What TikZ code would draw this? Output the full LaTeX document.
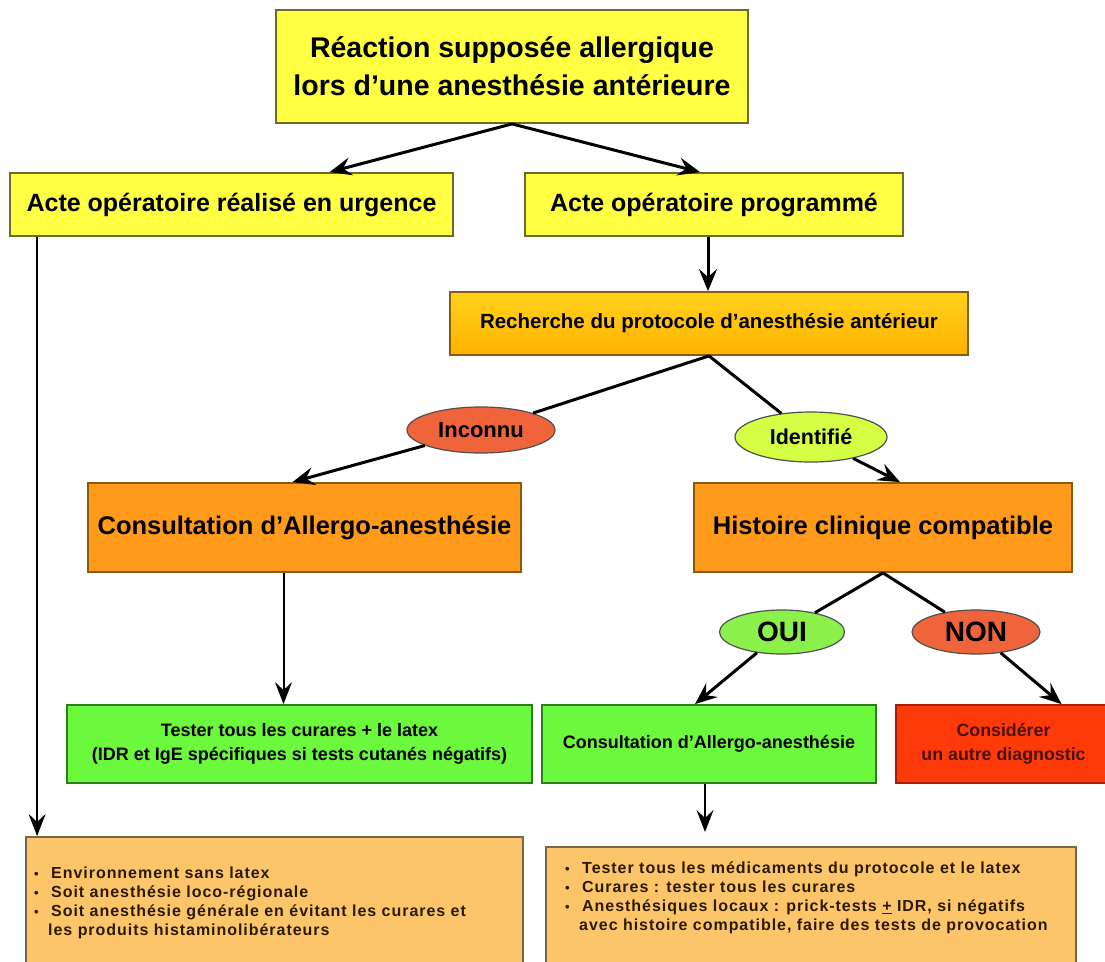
\documentclass[tikz,border=0pt]{standalone}
\usepackage{fontspec}
\setmainfont{Liberation Sans}
\newfontfamily\spaced{Liberation Sans}[LetterSpace=6]
\usetikzlibrary{arrows.meta,calc,shapes.geometric}
\definecolor{cY}{HTML}{FFFF44}
\definecolor{cYd}{HTML}{6E6A2A}
\definecolor{cO}{HTML}{FF9A1A}
\definecolor{cOd}{HTML}{8A5A10}
\definecolor{cRa}{HTML}{FFD21C}
\definecolor{cRb}{HTML}{FFB200}
\definecolor{cG}{HTML}{6CF83C}
\definecolor{cGd}{HTML}{2E7D1E}
\definecolor{cR}{HTML}{FF3A0A}
\definecolor{cRd}{HTML}{A02000}
\definecolor{cL}{HTML}{FDC56A}
\definecolor{cLd}{HTML}{7A6545}
\definecolor{cInc}{HTML}{F0643C}
\definecolor{cId}{HTML}{D4FF44}
\definecolor{cOui}{HTML}{8CF04A}
\definecolor{cE}{HTML}{505050}
\definecolor{cTxtR}{HTML}{4A1000}
\definecolor{cTxtB}{HTML}{2A1A00}
\newcommand{\fsz}[1]{\fontsize{#1}{#1}\selectfont\bfseries}
\newcommand{\bul}{\makebox[17pt][l]{\raisebox{0.5pt}{\fontsize{13}{13}\selectfont •}}}
\begin{document}
\begin{tikzpicture}[x=1pt,y=-1pt,
  box/.style={rectangle, line width=1.8pt, inner sep=2pt, align=center},
  ybox/.style={box, fill=cY, draw=cYd},
  obox/.style={box, fill=cO, draw=cOd},
  gbox/.style={box, fill=cG, draw=cGd},
  rbox/.style={box, fill=cR, draw=cRd},
  lbox/.style={box, fill=cL, draw=cLd},
  oval/.style={ellipse, draw=cE, line width=1.2pt, inner sep=0pt},
  conn/.style={line width=3pt, black},
  arr/.style={conn, -{Stealth[length=22pt,width=18pt,inset=8pt]}},
  thinarr/.style={line width=2pt, black, -{Stealth[length=22pt,width=17pt,inset=8pt]}},
  bottxt/.style={anchor=north west, align=left, inner sep=0pt, text=cTxtB, font=\spaced\fontsize{16}{19}\selectfont\bfseries},
]
\useasboundingbox (0,0) rectangle (1105,961);
\fill[white] (0,0) rectangle (1105,961);

\node[ybox, minimum width=472pt, minimum height=113pt, font=\fontsize{28.5}{38}\selectfont\bfseries] (top) at (512,66.5) {Réaction supposée allergique\\lors d’une anesthésie antérieure};
\node[ybox, minimum width=443pt, minimum height=63pt, font=\fsz{25}] (urg) at (231.5,204.5) {Acte opératoire réalisé en urgence};
\node[ybox, minimum width=378pt, minimum height=63pt, font=\fsz{25}] (prog) at (714,204.5) {Acte opératoire programmé};
\node[box, top color=cRa, bottom color=cRb, draw=cOd, minimum width=518pt, minimum height=63pt, font=\fsz{20.5}] (rech) at (709,323.5) {Recherche du protocole d’anesthésie antérieur};

\node[oval, fill=cInc, minimum width=148pt, minimum height=46pt, font=\fsz{22}] (inc) at (481,430) {Inconnu};
\node[oval, fill=cId, minimum width=152pt, minimum height=50pt, font=\fsz{21.5}] (ident) at (811,437) {Identifié};

\node[obox, minimum width=433pt, minimum height=89pt, font=\fsz{25.5}] (consA) at (304.5,527.5) {Consultation d’Allergo-anesthésie};
\node[obox, minimum width=378pt, minimum height=89pt, font=\fsz{25.5}] (hist) at (883,527.5) {Histoire clinique compatible};

\node[oval, fill=cOui, minimum width=125pt, minimum height=44pt, font=\fsz{28}] (oui) at (782,632) {OUI};
\node[oval, fill=cInc, minimum width=128pt, minimum height=44pt, font=\fsz{28}] (non) at (976,632) {NON};

\node[gbox, minimum width=465pt, minimum height=78pt, font=\fontsize{18}{24}\selectfont\bfseries] (test) at (299.5,744) {Tester tous les curares + le latex\\(IDR et IgE spécifiques si tests cutanés négatifs)};
\node[gbox, minimum width=334pt, minimum height=78pt, font=\fsz{18}] (consB) at (709,744) {Consultation d’Allergo-anesthésie};
\node[rbox, minimum width=215pt, minimum height=78pt, font=\fontsize{17.8}{24}\selectfont\bfseries, text=cTxtR] (autre) at (1003.5,744) {Considérer\\un autre diagnostic};

\node[lbox, anchor=north west, minimum width=497pt, minimum height=150pt] (botL) at (25,836) {};
\node[lbox, anchor=north west, minimum width=530pt, minimum height=150pt] (botR) at (545,846) {};

\node[bottxt] (botLtxt) at (34,867) {\bul Environnement sans latex\\\bul Soit anesthésie loco-régionale\\\bul Soit anesthésie générale en évitant les curares et\\\hspace*{14pt}les produits histaminolibérateurs};
\node[bottxt] (botRtxt) at (565,862) {\bul Tester tous les médicaments du protocole et le latex\\\bul Curares : tester tous les curares\\\bul Anesthésiques locaux : prick-tests \underline{+} IDR, si négatifs\\\hspace*{14pt}avec histoire compatible, faire des tests de provocation};

\draw[arr] (top.south) -- ($(urg.north)+(98,0)$);
\draw[arr] (top.south) -- ($(prog.north)+(-14,0)$);
\draw[arr] ($(prog.south)+(-6,0)$) -- ($(prog.south |- rech.north)+(-6,0)$);
\draw[conn] (rech.south) -- (inc);
\draw[arr] (inc) -- ($(consA.north)+(-12,0)$);
\draw[conn] (rech.south) -- (ident);
\draw[arr] (ident) -- ($(hist.north)+(17,0)$);
\draw[conn] (hist.south) -- (oui);
\draw[arr] (oui) -- ($(consB.north)+(-14,0)$);
\draw[conn] (hist.south) -- (non);
\draw[arr] (non) -- ($(autre.north)+(58,0)$);
\draw[thinarr] ($(consA.south)+(-21,0)$) -- ($(consA.south |- test.north)+(-21,0)$);
\draw[thinarr] ($(consB.south)+(-4,0)$) -- ($(consB.south |- botR.north)+(-4,-14)$);
\draw[thinarr] ($(urg.south west)+(28,0)$) -- ($(urg.south west |- botL.north)+(28,0)$);
\end{tikzpicture}
\end{document}
